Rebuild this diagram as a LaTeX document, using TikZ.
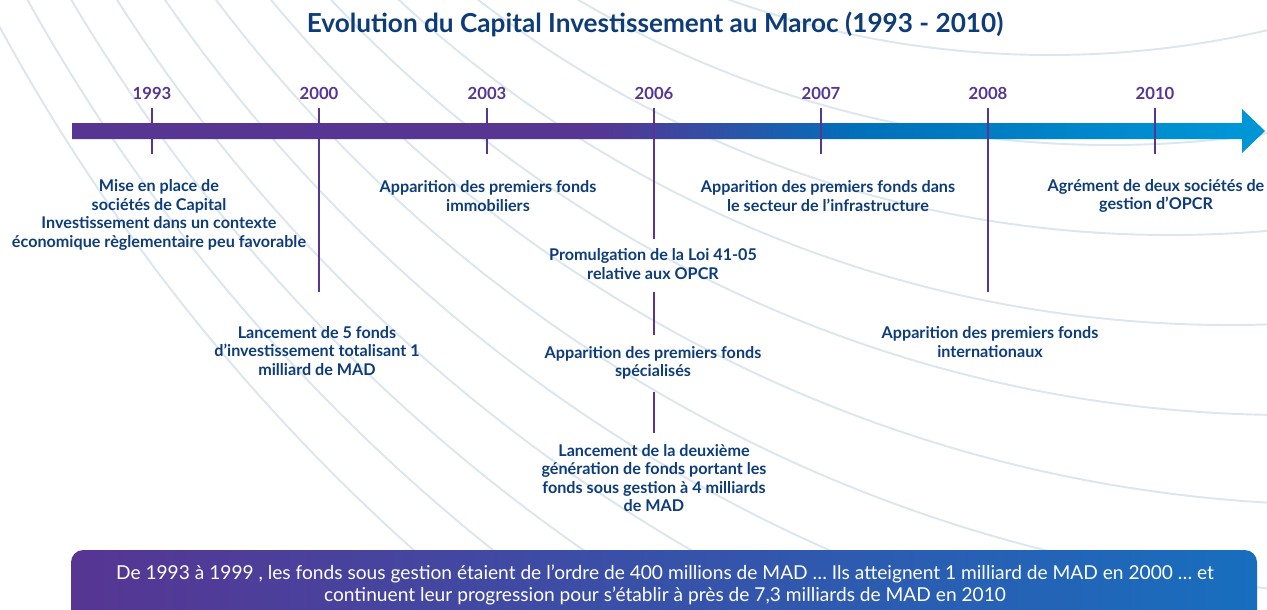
\documentclass[tikz,border=0pt]{standalone}
\usepackage{fontspec}
\setmainfont{Lato}
\usepackage{tikz}
\usetikzlibrary{arrows,shapes,positioning}
\definecolor{mcpurple}{RGB}{87,53,147}
\definecolor{mcnavy}{RGB}{13,60,120}
\definecolor{mcblue}{RGB}{0,112,186}
\definecolor{mclightblue}{RGB}{0,150,214}
\definecolor{mcboxblue}{RGB}{24,110,190}
\definecolor{mccurve}{RGB}{220,230,238}
\pgfdeclarehorizontalshading{axisshade}{100bp}{color(0bp)=(mcpurple); color(47bp)=(mcpurple); color(58bp)=(mcblue); color(74bp)=(mclightblue); color(100bp)=(mclightblue)}
\tikzstyle{yearlabel} = [font=\bfseries\fontsize{9.5}{11}\selectfont, text=mcpurple, inner sep=0pt]
\tikzstyle{event} = [font=\bfseries\fontsize{9.2}{10.6}\selectfont, text=mcnavy, align=center, inner sep=0pt]
\tikzstyle{tick} = [line width=1.3pt, color=mcpurple]
\tikzstyle{bgcurve} = [line width=1.1pt, color=mccurve]
\tikzstyle{summary} = [font=\fontsize{10.9}{12.5}\selectfont, text=white, align=center, inner sep=0pt]

\begin{document}
\begin{tikzpicture}[x=0.02cm, y=0.02cm]
\useasboundingbox (0,0) rectangle (1267,-609);

% Background curves
\begin{scope}
\clip (0,0) rectangle (1267,-609);
\foreach \k in {0,...,11}
  \draw[bgcurve] ({1050+60*\k},900) circle ({955+90*\k});
\end{scope}

% Title
\node (title) [font=\bfseries\fontsize{14.9}{17}\selectfont, text=mcnavy] at (655,-24) {Evolution du Capital Investissement au Maroc (1993 - 2010)};

% Time axis
\shade[shading=axisshade] (72,-123) -- (1242,-123) -- (1242,-109) -- (1265,-131)
  -- (1242,-153) -- (1242,-139) -- (72,-139) -- cycle;

% Years and ticks
\foreach \yr/\xx/\low in {1993/152/154, 2000/319/292, 2003/487/154, 2006/654/239, 2007/821/154, 2008/988/292, 2010/1155/154} {
  \coordinate (top\yr) at (\xx,-108);
  \coordinate (bot\yr) at (\xx,-\low);
  \draw[tick] (top\yr) -- (bot\yr);
  \node (lab\yr) [yearlabel] at (\xx,-93) {\yr};
}

% Events
\node (ev1993) [event] at (159,-215) {Mise en place de\\sociétés de Capital\\Investissement dans un contexte\\économique règlementaire peu favorable};
\node (ev2000) [event] at (317,-351) {Lancement de 5 fonds\\d’investissement totalisant 1\\milliard de MAD};
\node (ev2003) [event] at (488,-196) {Apparition des premiers fonds\\immobiliers};
\node (ev2006a) [event] at (653,-264) {Promulgation de la Loi 41-05\\relative aux OPCR};
\node (ev2006b) [event] at (653,-363) {Apparition des premiers fonds\\spécialisés};
\node (ev2006c) [event] at (654,-478) {Lancement de la deuxième\\génération de fonds portant les\\fonds sous gestion à 4 milliards\\de MAD};
\node (ev2007) [event] at (828,-196) {Apparition des premiers fonds dans\\le secteur de l’infrastructure};
\node (ev2008) [event] at (990,-342) {Apparition des premiers fonds\\internationaux};
\node (ev2010) [event] at (1156,-196) {Agrément de deux sociétés de\\gestion d’OPCR};

% 2006 links
\draw[tick, shorten <=7pt, shorten >=6pt] (ev2006a.south -| top2006) -- (ev2006b.north -| top2006);
\draw[tick, shorten <=7pt, shorten >=6pt] (ev2006b.south -| top2006) -- (ev2006c.north -| top2006);

% Summary
\begin{scope}
\clip (0,0) rectangle (1267,-609);
\shade[left color=mcpurple, right color=mcboxblue, rounded corners=7pt] (71,-550) rectangle (1257,-650);
\end{scope}
\node (summary) [summary] at (665,-585) {De 1993 à 1999 , les fonds sous gestion étaient de l’ordre de 400 millions de MAD … Ils atteignent 1 milliard de MAD en 2000 … et\\continuent leur progression pour s’établir à près de 7,3 milliards de MAD en 2010};
\end{tikzpicture}
\end{document}
